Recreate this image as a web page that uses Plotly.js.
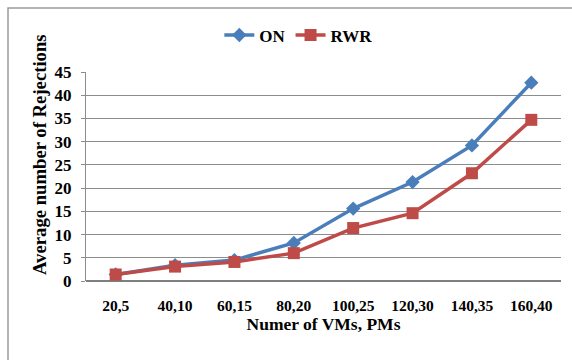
<!DOCTYPE html>
<html><head><meta charset="utf-8">
<script src="https://cdn.plot.ly/plotly-3.0.1.min.js"></script>
<style>html,body{margin:0;padding:0;background:#fff;}#c{width:572px;height:360px;}</style>
</head><body><div id="c"></div>
<script>
var categories = ["20,5","40,10","60,15","80,20","100,25","120,30","140,35","160,40"];
var onValues  = [1.4, 3.4, 4.5, 8.2, 15.6, 21.3, 29.2, 42.7];
var rwrValues = [1.4, 3.1, 4.1, 6.0, 11.4, 14.6, 23.2, 34.7];
var yTicks = [0,5,10,15,20,25,30,35,40,45];

var fam = "Liberation Serif, Times New Roman, serif";
var traces = [
  {x: categories, y: onValues, name: "ON", type: "scatter", mode: "lines+markers",
   line: {color: "#4a7ebb", width: 3.5}, marker: {symbol: "diamond", size: 11, color: "#4a7ebb"}},
  {x: categories, y: rwrValues, name: "RWR", type: "scatter", mode: "lines+markers",
   line: {color: "#be4b48", width: 3.5}, marker: {symbol: "square", size: 12, color: "#be4b48"}}
];
var layout = {
  width: 572, height: 360,
  margin: {l: 86, r: 11, t: 72, b: 79},
  paper_bgcolor: "#fff", plot_bgcolor: "#fff",
  font: {family: fam, size: 16, color: "#000"},
  showlegend: true,
  legend: {orientation: "h", x: 0.447, xanchor: "center", y: 1.175, yanchor: "middle",
           font: {family: fam, size: 17, color: "#000", weight: "bold"}},
  xaxis: {type: "category", showgrid: false, zeroline: false, showline: false,
          ticks: "", tickfont: {family: fam, size: 15.5, weight: "bold", color: "#000"},
          ticklabelstandoff: 13,
          title: {text: "<b>Numer of VMs, PMs</b>", font: {family: fam, size: 17.5, color: "#000"}, standoff: 3},
          range: [-0.5, 7.5]},
  yaxis: {range: [0, 45], tickvals: yTicks, showgrid: true, gridcolor: "#8c8c8c", gridwidth: 1,
          zeroline: true, zerolinecolor: "#7f7f7f", zerolinewidth: 2,
          showline: true, linecolor: "#8c8c8c", linewidth: 1, ticks: "outside", ticklen: 4, tickcolor: "#8c8c8c",
          tickfont: {family: fam, size: 17, weight: "bold", color: "#000"}, ticklabelstandoff: 6},
  annotations: [
    {text: "<b>Average number of Rejections</b>", xref: "paper", yref: "paper",
     x: (39-86)/475, y: (281-155)/209, xanchor: "center", yanchor: "middle", textangle: -90,
     showarrow: false, font: {family: fam, size: 18.7, color: "#000"}}
  ],
  shapes: [
    {type: "rect", xref: "paper", yref: "paper", x0: (8-86)/475, x1: 2, y0: -1, y1: 1 + (72-8)/209,
     line: {color: "#9a9a9a", width: 1.5}, fillcolor: "rgba(0,0,0,0)", layer: "below"}
  ]
};
Plotly.newPlot("c", traces, layout, {displayModeBar: false, staticPlot: true});
</script></body></html>
